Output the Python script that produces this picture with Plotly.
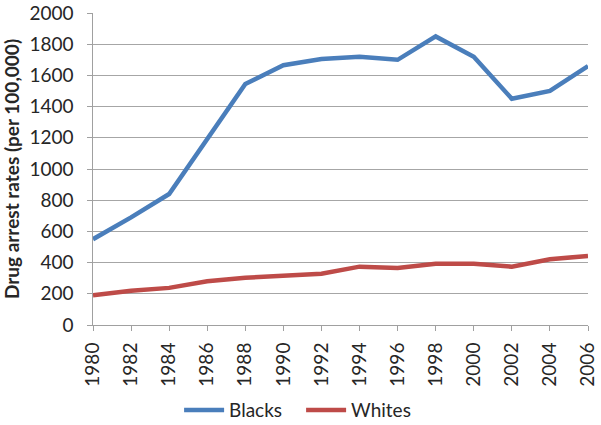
import plotly.graph_objects as go

# data
years = [1980, 1982, 1984, 1986, 1988, 1990, 1992, 1994, 1996, 1998, 2000, 2002, 2004, 2006]
blacks = [550, 690, 840, 1190, 1545, 1665, 1705, 1720, 1700, 1850, 1720, 1450, 1500, 1660]
whites = [191, 219, 238, 280, 303, 316, 329, 374, 366, 392, 392, 374, 422, 443]

fig = go.Figure()
fig.add_trace(go.Scatter(x=years, y=blacks, mode="lines", name="Blacks",
                         line=dict(color="#4A7EBB", width=4.5)))
fig.add_trace(go.Scatter(x=years, y=whites, mode="lines", name="Whites",
                         line=dict(color="#BE4B48", width=4.5)))

fig.update_layout(
    width=601, height=425,
    margin=dict(l=93, r=13, t=13, b=100),
    paper_bgcolor="white", plot_bgcolor="white",
    font=dict(family="Lato, Noto Sans, sans-serif", size=19, color="#262626"),
    showlegend=True,
    legend=dict(orientation="h", xref="container", yref="container",
                x=0.298, xanchor="left", y=0.035, yanchor="middle",
                font=dict(size=19), itemwidth=40,
                entrywidth=67, entrywidthmode="pixels"),
)

fig.update_xaxes(
    range=[1980, 2006],
    tickmode="array", tickvals=years, ticktext=[str(y) for y in years],
    tickangle=-90, tickfont=dict(size=19), ticklabelstandoff=4,
    showgrid=False, showline=True, linecolor="#A0A0A0", linewidth=1,
    ticks="outside", ticklen=5, tickcolor="#A0A0A0",
    zeroline=False, automargin=False,
)
fig.update_yaxes(
    range=[0, 2000], dtick=200,
    tickfont=dict(size=19), ticksuffix="\u00a0\u00a0",
    showgrid=True, gridcolor="#A6A6A6", gridwidth=1,
    showline=True, linecolor="#A0A0A0", linewidth=1,
    ticks="outside", ticklen=5, tickcolor="#A0A0A0",
    zeroline=False, automargin=False,
    title=dict(text="<b>Drug arrest rates (per 100,000)</b>", font=dict(size=19), standoff=6),
)

# drop the page's default 8px body margin so the figure sits at the window corner
fig.write_html("out.html", config={"displayModeBar": False},
               post_script="document.body.style.margin='0';")
